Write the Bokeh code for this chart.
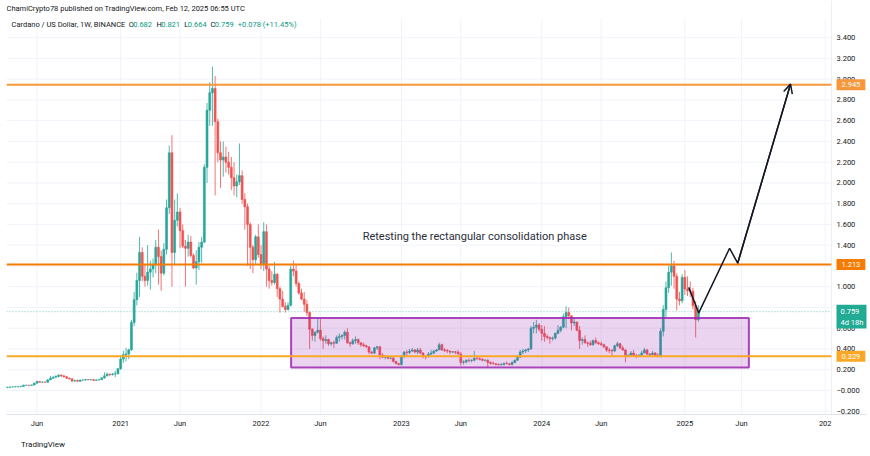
import pandas as pd
from bokeh.plotting import figure
from bokeh.models import (ColumnDataSource, FixedTicker, Label, Arrow, OpenHead,
                          Range1d, Title)
from bokeh.embed import file_html
from bokeh.resources import INLINE

# ---------------- data (weekly ADA/USD candles) -------------
first_week = "2020-03-16"
first_open = 0.0265

closes_2020 = [0.031, 0.033, 0.034, 0.035, 0.036, 0.039, 0.050, 0.050, 0.049, 0.052,
               0.070, 0.085, 0.080, 0.080, 0.078, 0.101, 0.118, 0.128, 0.135, 0.147,
               0.140, 0.131, 0.118, 0.111, 0.092, 0.095, 0.088, 0.100, 0.100, 0.104,
               0.102, 0.104, 0.097, 0.101, 0.104, 0.122, 0.141, 0.158, 0.153, 0.158,
               0.160, 0.210]
highs_2020 = [0.035, 0.034, 0.036, 0.039, 0.037, 0.040, 0.054, 0.055, 0.053, 0.056,
              0.075, 0.094, 0.089, 0.086, 0.085, 0.110, 0.140, 0.137, 0.146, 0.155,
              0.156, 0.150, 0.140, 0.124, 0.119, 0.104, 0.105, 0.104, 0.106, 0.108,
              0.111, 0.112, 0.110, 0.107, 0.108, 0.126, 0.174, 0.171, 0.160, 0.168,
              0.190, 0.213]
lows_2020 = [0.0245, 0.029, 0.031, 0.033, 0.032, 0.035, 0.038, 0.046, 0.041, 0.047,
             0.050, 0.068, 0.074, 0.075, 0.074, 0.077, 0.100, 0.110, 0.118, 0.125,
             0.128, 0.125, 0.110, 0.107, 0.078, 0.083, 0.087, 0.083, 0.095, 0.095,
             0.100, 0.099, 0.090, 0.093, 0.099, 0.102, 0.112, 0.136, 0.138, 0.144,
             0.130, 0.155]

closes_2021 = [0.302, 0.345, 0.352, 0.393, 0.655, 0.875, 1.060, 1.330, 1.100, 1.060,
               1.140, 1.170, 1.210, 1.380, 1.290, 1.130, 1.360, 1.760, 2.290, 1.330,
               1.640, 1.720, 1.540, 1.390, 1.370, 1.430, 1.300, 1.180, 1.240, 1.380,
               1.430, 2.150, 2.700, 2.870, 2.910, 2.590, 2.290, 2.220, 2.250, 2.200,
               2.150, 2.050, 1.970, 2.010, 2.070, 1.840, 1.770, 1.600, 1.380, 1.260,
               1.480, 1.310]
highs_2021 = [0.338, 0.382, 0.410, 0.400, 0.680, 0.950, 1.135, 1.480, 1.380, 1.220,
              1.400, 1.250, 1.270, 1.450, 1.550, 1.350, 1.420, 1.840, 2.360, 2.460,
              1.840, 1.900, 1.760, 1.600, 1.450, 1.500, 1.490, 1.320, 1.350, 1.430,
              1.480, 2.180, 2.770, 2.970, 3.120, 3.030, 2.620, 2.400, 2.400, 2.350,
              2.300, 2.250, 2.200, 2.080, 2.380, 2.120, 1.900, 1.800, 1.620, 1.400,
              1.500, 1.600]
lows_2021 = [0.198, 0.268, 0.280, 0.302, 0.380, 0.620, 0.820, 0.900, 1.050, 1.000,
             1.010, 0.970, 1.090, 1.130, 1.020, 0.960, 1.110, 1.310, 1.700, 1.000,
             1.220, 1.580, 1.370, 1.370, 1.000, 1.290, 1.280, 1.170, 1.020, 1.160,
             1.230, 1.420, 2.000, 2.550, 2.550, 1.880, 2.200, 1.950, 2.060, 2.100,
             2.080, 1.930, 1.880, 1.860, 1.980, 1.800, 1.550, 1.200, 1.170, 1.130,
             1.210, 1.280]

closes_2022 = [1.220, 1.530, 1.170, 1.060, 1.040, 1.120, 0.980, 0.880, 0.810, 0.780,
               0.820, 1.170, 1.150, 1.030, 0.940, 0.880, 0.830, 0.750, 0.590, 0.530,
               0.560, 0.580, 0.500, 0.480, 0.490, 0.450, 0.460, 0.455, 0.510, 0.520,
               0.530, 0.560, 0.460, 0.450, 0.480, 0.490, 0.460, 0.440, 0.430, 0.420,
               0.370, 0.360, 0.410, 0.420, 0.340, 0.320, 0.330, 0.310, 0.312, 0.280,
               0.260, 0.250]
highs_2022 = [1.400, 1.620, 1.600, 1.200, 1.150, 1.240, 1.130, 1.000, 0.960, 0.850,
              0.850, 1.200, 1.250, 1.220, 1.050, 0.980, 0.950, 0.870, 0.760, 0.600,
              0.570, 0.690, 0.690, 0.520, 0.530, 0.500, 0.470, 0.480, 0.530, 0.550,
              0.540, 0.580, 0.600, 0.470, 0.500, 0.520, 0.500, 0.460, 0.460, 0.440,
              0.420, 0.380, 0.420, 0.430, 0.430, 0.360, 0.340, 0.330, 0.330, 0.330,
              0.280, 0.260]
lows_2022 = [1.170, 1.150, 1.000, 0.980, 1.010, 1.020, 0.900, 0.750, 0.800, 0.750,
             0.770, 0.810, 1.100, 1.000, 0.920, 0.870, 0.760, 0.720, 0.400, 0.480,
             0.470, 0.550, 0.480, 0.400, 0.450, 0.430, 0.430, 0.410, 0.450, 0.470,
             0.490, 0.490, 0.450, 0.420, 0.440, 0.450, 0.440, 0.420, 0.420, 0.410,
             0.350, 0.350, 0.350, 0.390, 0.300, 0.310, 0.300, 0.300, 0.300, 0.270,
             0.250, 0.240]

closes_2023 = [0.330, 0.370, 0.365, 0.380, 0.390, 0.370, 0.390, 0.360, 0.330, 0.325,
               0.350, 0.360, 0.380, 0.390, 0.440, 0.390, 0.385, 0.380, 0.370, 0.372,
               0.368, 0.350, 0.270, 0.275, 0.290, 0.288, 0.292, 0.310, 0.305, 0.300,
               0.290, 0.292, 0.270, 0.260, 0.258, 0.250, 0.248, 0.252, 0.260, 0.258,
               0.250, 0.270, 0.290, 0.320, 0.370, 0.380, 0.390, 0.400, 0.600, 0.610,
               0.630, 0.590]
highs_2023 = [0.340, 0.380, 0.390, 0.400, 0.410, 0.400, 0.410, 0.410, 0.370, 0.340,
              0.370, 0.390, 0.390, 0.400, 0.460, 0.450, 0.410, 0.400, 0.380, 0.380,
              0.380, 0.390, 0.370, 0.290, 0.300, 0.310, 0.300, 0.380, 0.330, 0.320,
              0.310, 0.300, 0.300, 0.280, 0.280, 0.260, 0.260, 0.260, 0.270, 0.280,
              0.260, 0.280, 0.300, 0.340, 0.390, 0.400, 0.400, 0.410, 0.620, 0.660,
              0.680, 0.650]
lows_2023 = [0.240, 0.310, 0.330, 0.350, 0.370, 0.360, 0.350, 0.350, 0.310, 0.300,
             0.320, 0.340, 0.350, 0.370, 0.390, 0.380, 0.370, 0.360, 0.350, 0.360,
             0.350, 0.350, 0.240, 0.250, 0.260, 0.270, 0.270, 0.280, 0.300, 0.290,
             0.280, 0.280, 0.220, 0.250, 0.250, 0.240, 0.240, 0.240, 0.240, 0.250,
             0.240, 0.240, 0.260, 0.290, 0.320, 0.350, 0.360, 0.370, 0.390, 0.550,
             0.550, 0.570]

closes_2024 = [0.550, 0.520, 0.510, 0.500, 0.505, 0.550, 0.580, 0.610, 0.710, 0.750,
               0.720, 0.650, 0.660, 0.580, 0.480, 0.490, 0.460, 0.455, 0.440, 0.480,
               0.460, 0.450, 0.440, 0.420, 0.390, 0.385, 0.380, 0.430, 0.450, 0.410,
               0.390, 0.330, 0.340, 0.360, 0.340, 0.330, 0.340, 0.360, 0.390, 0.350,
               0.345, 0.360, 0.340, 0.335, 0.570, 0.780, 0.990, 1.140, 1.200, 1.100,
               0.880, 0.865, 1.090]
highs_2024 = [0.630, 0.620, 0.540, 0.520, 0.520, 0.560, 0.630, 0.620, 0.740, 0.810,
              0.800, 0.720, 0.700, 0.660, 0.620, 0.510, 0.530, 0.470, 0.480, 0.490,
              0.510, 0.470, 0.470, 0.450, 0.420, 0.410, 0.400, 0.440, 0.470, 0.460,
              0.430, 0.395, 0.350, 0.380, 0.390, 0.350, 0.350, 0.380, 0.410, 0.400,
              0.360, 0.380, 0.370, 0.360, 0.600, 0.820, 1.050, 1.200, 1.330, 1.250,
              1.130, 0.950, 1.120]
lows_2024 = [0.480, 0.470, 0.490, 0.450, 0.480, 0.490, 0.540, 0.560, 0.600, 0.600,
             0.690, 0.580, 0.620, 0.570, 0.400, 0.440, 0.450, 0.420, 0.430, 0.430,
             0.450, 0.440, 0.430, 0.410, 0.370, 0.360, 0.330, 0.370, 0.420, 0.400,
             0.380, 0.270, 0.320, 0.330, 0.330, 0.310, 0.320, 0.330, 0.360, 0.340,
             0.330, 0.340, 0.330, 0.320, 0.320, 0.520, 0.700, 0.940, 1.010, 0.980,
             0.770, 0.820, 0.840]

closes_2025 = [0.977, 0.960, 0.955, 0.815, 0.682, 0.759]
highs_2025 = [1.160, 1.100, 1.050, 0.990, 0.860, 0.821]
lows_2025 = [0.920, 0.910, 0.900, 0.780, 0.510, 0.664]

# time axis (TradingView labels sit on the first weekly bar of each period)
x_tick_dates = ["2020-06-01", "2021-01-04", "2021-06-07", "2022-01-03", "2022-06-06",
                "2023-01-02", "2023-06-05", "2024-01-01", "2024-06-03", "2025-01-06",
                "2025-06-02", "2026-01-05"]
x_tick_labels = ["Jun", "2021", "Jun", "2022", "Jun", "2023", "Jun", "2024", "Jun",
                 "2025", "Jun", "202"]
x_view = ["2020-03-14", "2026-04-22"]      # frame incl. the price-scale strip
pane_end = "2026-01-21"                      # right edge of the chart pane

# price axis
y_tick_values = [-0.2, 0.0, 0.2, 0.4, 0.6, 0.8, 1.0, 1.2, 1.4, 1.6, 1.8, 2.0, 2.2,
                 2.4, 2.6, 2.8, 3.0, 3.2, 3.4]
y_tick_labels = ["\u22120.200", "\u22120.000", "0.200", "0.400", "0.600", "0.800",
                 "1.000", "1.200", "1.400", "1.600", "1.800", "2.000", "2.200",
                 "2.400", "2.600", "2.800", "3.000", "3.200", "3.400"]
y_view = [-0.232, 3.758]
pane_top = 3.585

# drawings
levels = [2.945, 1.213, 0.329]
level_labels = ["2.945", "1.213", "0.329"]
level_colors = ["#f7963a", "#f57c00", "#f9a825"]
rect_dates = ["2022-03-22", "2025-06-21"]
rect_prices = [0.220, 0.699]
arrow_dates = ["2025-01-16", "2025-02-11", "2025-05-02", "2025-05-23", "2025-10-07"]
arrow_prices = [0.993, 0.747, 1.370, 1.226, 2.952]
note_text = "Retesting the rectangular consolidation phase"
note_date = "2023-07-11"
note_price = 1.482
countdown = "4d 18h"

header_1 = "ChamiCrypto78 published on TradingView.com, Feb 12, 2025 06:55 UTC"
header_2_parts = ["Cardano / US Dollar, 1W, BINANCE", "O", "0.682", "H", "0.821",
                  "L", "0.664", "C", "0.759", "+0.078 (+11.45%)"]
footer = "TradingView"

# ---------------- build -----------------------------------------------------------
UP = "#26a69a"
DOWN = "#ef5350"
INK = "#131722"
GRID = "#f0f3fa"
FONT = "Roboto"

closes = closes_2020 + closes_2021 + closes_2022 + closes_2023 + closes_2024 + closes_2025
highs = highs_2020 + highs_2021 + highs_2022 + highs_2023 + highs_2024 + highs_2025
lows = lows_2020 + lows_2021 + lows_2022 + lows_2023 + lows_2024 + lows_2025
opens = [first_open] + closes[:-1]

day0 = pd.Timestamp("2020-01-01")


def to_day(s):
    return float((pd.Timestamp(s) - day0) / pd.Timedelta(days=1))


weeks = pd.date_range(first_week, periods=len(closes), freq="7D")
xs = [float((w - day0) / pd.Timedelta(days=1)) for w in weeks]
colors = [UP if c >= o else DOWN for o, c in zip(opens, closes)]
src = ColumnDataSource(dict(
    x=xs, high=highs, low=lows,
    top=[max(o, c) for o, c in zip(opens, closes)],
    bottom=[min(o, c) for o, c in zip(opens, closes)],
    color=colors))

x0, x1 = to_day(x_view[0]), to_day(x_view[1])
xp = to_day(pane_end)

p = figure(width=870, height=456, output_backend="svg", toolbar_location=None,
           x_range=Range1d(x0, x1), y_range=Range1d(y_view[0], y_view[1]),
           y_axis_location="right", title=None,
           min_border_left=6, min_border_right=4, min_border_top=0,
           min_border_bottom=40)
p.background_fill_color = "white"
p.border_fill_color = "white"
p.outline_line_color = None
p.xgrid.visible = False
p.ygrid.visible = False

x_ticks = [to_day(d) for d in x_tick_dates]
p.xaxis.ticker = FixedTicker(ticks=x_ticks)
p.xaxis.major_label_overrides = dict(zip(x_ticks, x_tick_labels))
p.yaxis.ticker = FixedTicker(ticks=y_tick_values)
p.yaxis.major_label_overrides = dict(zip(y_tick_values, y_tick_labels))
for ax in (p.xaxis[0], p.yaxis[0]):
    ax.major_tick_line_color = None
    ax.minor_tick_line_color = None
    ax.major_tick_out = 0
    ax.major_tick_in = 0
    ax.minor_tick_out = 0
    ax.major_label_text_font = FONT
    ax.major_label_text_font_size = "7.5px"
    ax.major_label_text_color = INK
p.xaxis.axis_line_color = "#e0e3eb"
p.xaxis.major_label_standoff = 4
p.yaxis.axis_line_color = None
p.yaxis.major_label_standoff = -30   # labels sit in the price-scale strip

# grid lines of the chart pane
ny, nx = len(y_tick_values), len(x_ticks)
p.segment(x0=[x0] * ny, y0=y_tick_values, x1=[xp] * ny, y1=y_tick_values,
          line_color=GRID, line_width=1)
p.segment(x0=x_ticks, y0=[y_view[0]] * nx, x1=x_ticks, y1=[pane_top] * nx,
          line_color=GRID, line_width=1)
# pane / price-scale separator
p.segment(x0=[xp], y0=[y_view[0]], x1=[xp], y1=[y_view[1]],
          line_color="#eceef3", line_width=1)

# candles
p.segment(x0="x", y0="low", x1="x", y1="high", line_color="color",
          line_width=1, line_alpha=0.8, source=src)
p.vbar(x="x", width=5, top="top", bottom="bottom", fill_color="color",
       line_color="color", line_width=0.6, source=src)

# consolidation rectangle
p.quad(left=[to_day(rect_dates[0])], right=[to_day(rect_dates[1])],
       bottom=[rect_prices[0]], top=[rect_prices[1]],
       fill_color="#9c27b0", fill_alpha=0.2, line_color="#9c27b0",
       line_alpha=0.85, line_width=2)

# horizontal levels
nl = len(levels)
p.segment(x0=[x0] * nl, y0=levels, x1=[xp] * nl, y1=levels,
          line_color=level_colors, line_width=2)

# current price line
p.segment(x0=[x0], y0=[closes[-1]], x1=[xp], y1=[closes[-1]], line_color=UP,
          line_alpha=0.6, line_dash="1 2", line_width=1)

# projected path with arrow
ax_days = [to_day(d) for d in arrow_dates]
p.line(ax_days, arrow_prices, line_color=INK, line_width=1.5)
p.add_layout(Arrow(end=OpenHead(size=9, line_width=1.5, line_color=INK),
                   x_start=ax_days[-2], y_start=arrow_prices[-2],
                   x_end=ax_days[-1], y_end=arrow_prices[-1],
                   line_color=INK, line_width=1.5))

# note text
p.add_layout(Label(x=to_day(note_date), y=note_price, text=note_text,
                   text_align="center", text_baseline="middle",
                   text_font=FONT, text_font_size="11px", text_color="#2a2e39"))

# price-scale boxes (screen x measured from the frame's left edge)
box_x = 830
for lv, txt, col in zip(levels, level_labels, level_colors):
    p.add_layout(Label(x=box_x, x_units="screen", y=lv, y_units="data",
                       text=txt, text_font=FONT, text_font_size="7.5px",
                       text_color="white", text_baseline="middle",
                       text_align="left", background_fill_color=col,
                       padding=(5, 3)))
p.add_layout(Label(x=box_x, x_units="screen", y=closes[-1], y_units="data",
                   y_offset=-5, text=f"{closes[-1]:.3f}\n{countdown}",
                   text_font=FONT, text_font_size="7.5px", text_color="white",
                   text_baseline="middle", text_align="left",
                   background_fill_color="#22ab94", padding=(4, 2)))

# header texts (screen units, relative to the frame's bottom-left corner)
p.add_layout(Label(x=0, y=406.5, x_units="screen", y_units="screen", text=header_1,
                   text_font=FONT, text_font_size="7.5px", text_color=INK,
                   text_baseline="middle"))
h2_x = [5, 122.3, 126.7, 150, 154.7, 177.7, 181.3, 204, 208.3, 231.3]
h2_col = [INK, INK, "#089981", INK, "#089981", INK, "#089981", INK, "#089981", "#089981"]
for t, xx, cc in zip(header_2_parts, h2_x, h2_col):
    p.add_layout(Label(x=xx, y=390, x_units="screen", y_units="screen", text=t,
                       text_font=FONT, text_font_size="7.5px", text_color=cc,
                       text_baseline="middle"))

# footer
p.add_layout(Title(text=footer, align="left", offset=14.5, vertical_align="bottom",
                   standoff=15, text_font=FONT, text_font_size="8px",
                   text_font_style="normal", text_color=INK), "below")

open("out.html", "w").write(file_html(p, INLINE))
